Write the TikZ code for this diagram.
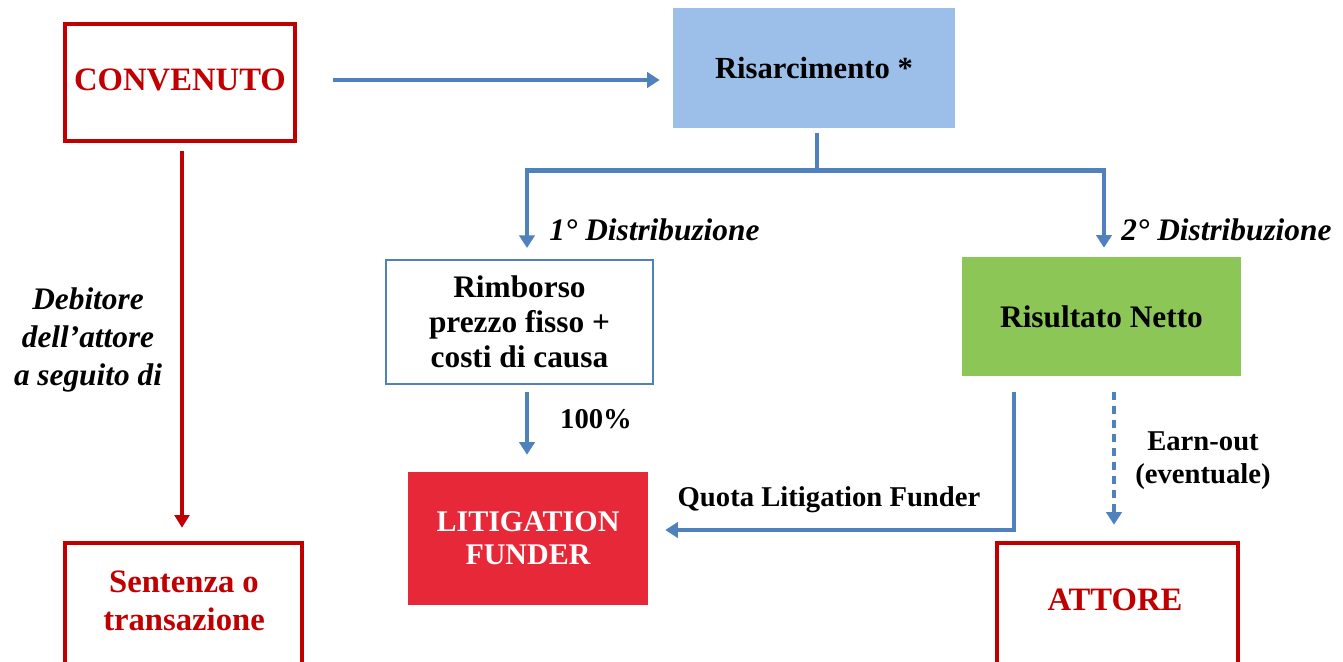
\documentclass[tikz,border=0pt]{standalone}
\usepackage{fontspec}
\setmainfont{Liberation Serif}
\usetikzlibrary{arrows.meta,calc}

\definecolor{darkred}{HTML}{C00000}
\definecolor{flowblue}{HTML}{4F81BD}
\definecolor{skyfill}{HTML}{9BBFE8}
\definecolor{greenfill}{HTML}{8CC657}
\definecolor{funderred}{HTML}{E72838}

\newcommand{\fsz}[2]{\fontsize{#1}{#2}\selectfont}

\begin{document}
\begin{tikzpicture}[x=0.75pt,y=-0.75pt,
  redbox/.style={draw=darkred, line width=3.4pt, fill=white, inner sep=0pt},
  fillbox/.style={draw=none, inner sep=0pt, align=center},
  flowline/.style={draw=flowblue, line width=3.6pt, line join=miter},
  flowarrow/.style={flowline, -{Triangle[width=11.5pt,length=9.5pt]}},
  redarrow/.style={draw=darkred, line width=2.6pt, -{Triangle[width=11pt,length=9.5pt]}},
  redtext/.style={text=darkred, font=\bfseries\fsz{24.5}{28.5}, align=center},
  labeltext/.style={font=\bfseries\fsz{21.5}{24.75}, align=center, inner sep=0pt},
  italictext/.style={font=\bfseries\itshape\fsz{23.5}{28.5}, align=center, inner sep=0pt}
]
\useasboundingbox (0,0) rectangle (1343,661);

% boxes
\node[redbox, minimum width=172.5pt, minimum height=87.75pt] (conv) at (180,82.5) {};
\node[redtext] (convtxt) at (180,80) {CONVENUTO};

\node[fillbox, fill=skyfill, minimum width=211.5pt, minimum height=90pt,
      font=\bfseries\fsz{23}{27}] (risarc) at (814,68) {Risarcimento *};

\node[draw=flowblue, line width=1.5pt, fill=white, inner sep=0pt, align=center,
      minimum width=200.25pt, minimum height=93pt,
      font=\bfseries\fsz{23.5}{26.25}] (rimb) at (519.5,322)
      {Rimborso\\prezzo fisso +\\costi di causa};

\node[fillbox, fill=funderred, text=white, minimum width=180pt, minimum height=99.75pt,
      font=\bfseries\fsz{22.5}{24.75}] (lf) at (528,538.5) {LITIGATION\\FUNDER};

\node[fillbox, fill=greenfill, minimum width=209.25pt, minimum height=89.25pt,
      font=\bfseries\fsz{23.5}{27}] (risult) at (1101.5,316.5) {Risultato Netto};

\node[redbox, minimum width=177.75pt, minimum height=102.75pt] (sent) at (183.5,611.5) {};
\node[redtext] (senttxt) at (184,601) {Sentenza o\\transazione};

\node[redbox, minimum width=180.75pt, minimum height=102.75pt] (attore) at (1117.5,611.5) {};
\node[redtext] (attoretxt) at (1115,600) {ATTORE};

% connectors
\draw[flowarrow] ($(conv.east)+(36,-2.5)$) -- ($(risarc.west)+(-13,12)$);

\draw[flowline] ($(risarc.south)+(3,5)$) -- ++(0,37) coordinate (split);
\draw[flowarrow] (split) -| ($(rimb.north)+(7.5,-11)$);
\draw[flowarrow] (split) -| ($(risult.north)+(2.5,-9)$);

\draw[flowarrow] ($(rimb.south)+(7.5,7)$) -- ($(lf.north)+(-1,-17)$);

\draw[flowarrow] ($(risult.south)+(-87.5,16)$) |- ($(lf.east)+(17,-8.5)$);

\draw[flowarrow, dash pattern=on 6pt off 4.5pt] ($(risult.south)+(12.5,16)$) -- ($(attore.north)+(-3.5,-16)$);

\draw[redarrow] ($(conv.south)+(2,8)$) -- ($(sent.north)+(-1.5,-13)$);

% labels
\node[italictext, anchor=west] (dist1) at (549,230) {1° Distribuzione};
\node[italictext, anchor=west] (dist2) at (1121,230) {2° Distribuzione};
\node[italictext] (debit) at (88,340) {Debitore\\dell’attore\\a seguito di};
\node[labeltext] (cento) at (596,419) {100\%};
\node[labeltext] (quota) at (829,500) {Quota Litigation Funder};
\node[labeltext] (earn) at (1203,461) {Earn-out\\(eventuale)};
\end{tikzpicture}
\end{document}
